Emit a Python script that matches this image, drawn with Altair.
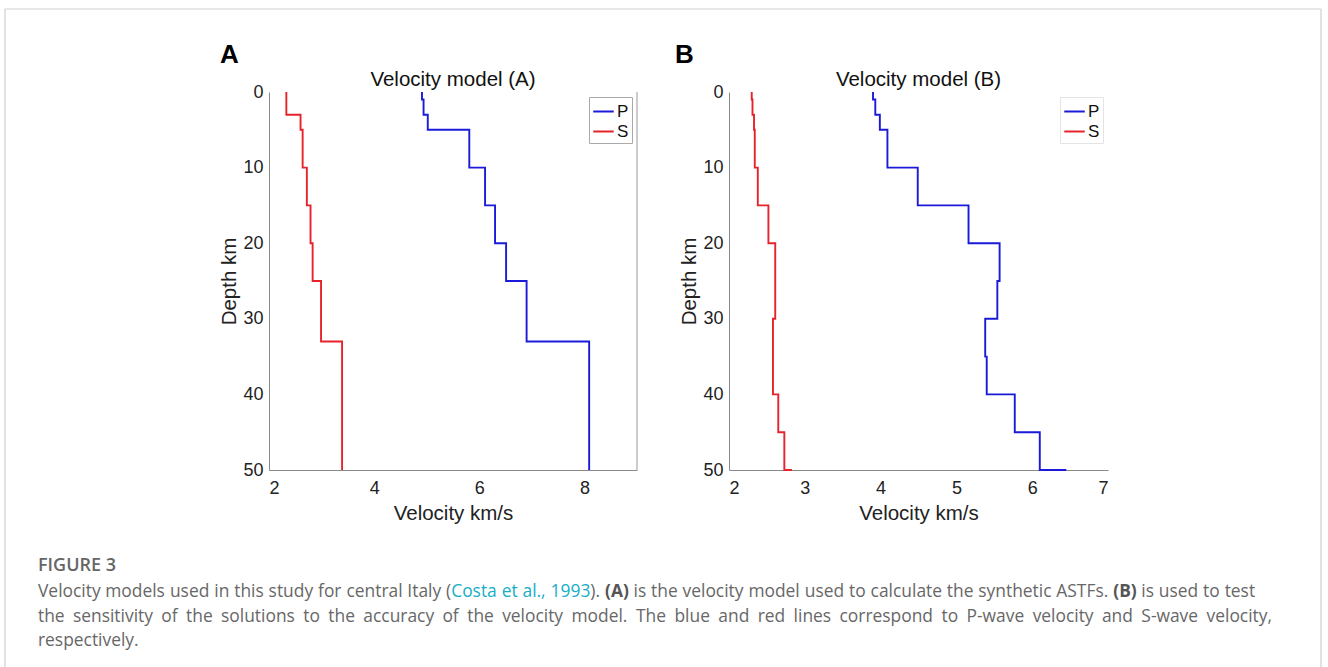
import altair as alt
import pandas as pd

# ---- data ----
A_P_tops = [0, 1, 3, 5, 10, 15, 20, 25, 33]
A_P_vel = [4.91, 4.94, 5.02, 5.81, 6.11, 6.30, 6.51, 6.90, 8.09]
A_S_tops = [0, 3, 5, 10, 15, 20, 25, 33]
A_S_vel = [2.33, 2.60, 2.64, 2.72, 2.79, 2.83, 2.99, 3.39]

B_P_tops = [0, 1, 3, 5, 10, 15, 20, 25, 30, 35, 40, 45, 50]
B_P_vel = [3.90, 3.93, 3.99, 4.09, 4.49, 5.16, 5.57, 5.54, 5.38, 5.40, 5.77, 6.10, 6.45]
B_S_tops = [0, 1, 3, 5, 10, 15, 20, 30, 40, 45, 50]
B_S_vel = [2.30, 2.31, 2.33, 2.34, 2.38, 2.52, 2.61, 2.58, 2.65, 2.73, 2.83]

MAX_DEPTH = 50
A_xticks = [2, 4, 6, 8]
B_xticks = [2, 3, 4, 5, 6, 7]
y_ticks = [0, 10, 20, 30, 40, 50]

caption_fig = "FIGURE 3"
caption_line1 = [
    ("Velocity models used in this study for central Italy (", "n"),
    ("Costa et al., 1993", "c"),
    ("). ", "n"),
    ("(A)", "b"),
    (" is the velocity model used to calculate the synthetic ASTFs. ", "n"),
    ("(B)", "b"),
    (" is used to test", "n"),
]
caption_line2 = [
    ("the sensitivity of the solutions to the accuracy of the velocity model. "
     "The blue and red lines correspond to P-wave velocity and S-wave velocity,", "n"),
]
caption_line3 = [("respectively.", "n")]

FONT = "Liberation Sans"
CAP_FONT = "Open Sans"
BLUE = "#1a1ad8"
RED = "#e6232b"
TEAL = "#17aec7"
CAP_GRAY = "#676767"

# plot-area geometry (pixels)
A_LEFT, A_RIGHT = 268, 636
B_LEFT, B_RIGHT = 728, 1107
TOP, BOTTOM = 91, 469
H = BOTTOM - TOP


def steps(tops, vels, wave):
    rows = []
    n = len(tops)
    for i in range(n):
        bottom = tops[i + 1] if i + 1 < n else MAX_DEPTH
        rows.append({"wave": wave, "v": vels[i], "d": tops[i], "o": 2 * i})
        rows.append({"wave": wave, "v": vels[i], "d": bottom, "o": 2 * i + 1})
    return rows


dfA = pd.DataFrame(steps(A_P_tops, A_P_vel, "P") + steps(A_S_tops, A_S_vel, "S"))
dfB = pd.DataFrame(steps(B_P_tops, B_P_vel, "P") + steps(B_S_tops, B_S_vel, "S"))

one = pd.DataFrame({"k": [0]})

# ---- approximate Open Sans advance widths (em) for laying out the caption ----
_W = dict(zip("abcdefghijklmnopqrstuvwxyz",
              [.556, .613, .476, .613, .561, .339, .548, .614, .253, .253, .525, .253, .930,
               .614, .604, .613, .613, .408, .477, .353, .614, .501, .778, .524, .502, .468]))
_W.update(zip("ABCDEFGHIJKLMNOPQRSTUVWXYZ",
              [.633, .647, .631, .727, .556, .516, .728, .738, .279, .267, .614, .519, .904,
               .763, .779, .602, .779, .618, .549, .553, .729, .582, .897, .575, .559, .560]))
_W.update({c: .572 for c in "0123456789"})
_W.update({" ": .26, ",": .258, ".": .267, "-": .322, "(": .296, ")": .296})
_WB = {"(": .332, ")": .332, "A": .690, "B": .662}
SPACE = .26


def em_width(txt, bold=False):
    tab = _WB if bold else {}
    return sum(tab.get(c, _W.get(c, .55)) for c in txt)


def layout_line(runs, x0, y, size, end=None):
    toks = []
    pending = False
    for text, style in runs:
        parts = text.split(" ")
        for j, p in enumerate(parts):
            if j > 0:
                pending = True
            if p == "":
                continue
            toks.append([p, style, pending and len(toks) > 0])
            pending = False
    widths = [em_width(t, s == "b") * size for t, s, _ in toks]
    nsp = sum(1 for t in toks if t[2])
    natural = sum(widths) + nsp * SPACE * size
    extra = (end - x0 - natural) / nsp if (end is not None and nsp) else 0
    rows = []
    x = x0
    for (t, s, sp), w in zip(toks, widths):
        if sp:
            x += SPACE * size + extra
        rows.append({"t": t, "s": s, "x": x, "y": y})
        x += w
    return rows


CAP_SIZE = 17.4
cap_rows = (layout_line(caption_line1, 37, 596, CAP_SIZE, end=1254)
            + layout_line(caption_line2, 37, 621, CAP_SIZE, end=1271)
            + layout_line(caption_line3, 37, 645, CAP_SIZE))
cap_df = pd.DataFrame(cap_rows)
cap_df["x"] = cap_df["x"] - A_LEFT
cap_df["y"] = cap_df["y"] - TOP


def text_layer(txt, x, y, size, color="#000", weight="normal", font=FONT, align="left"):
    return alt.Chart(one).mark_text(
        text=txt, align=align, baseline="alphabetic", fontSize=size,
        fontWeight=weight, font=font, color=color
    ).encode(x=alt.value(x), y=alt.value(y))


def caption_layer(style, color, weight):
    return alt.Chart(cap_df).transform_filter(alt.datum.s == style).mark_text(
        align="left", baseline="alphabetic", fontSize=CAP_SIZE, font=CAP_FONT,
        color=color, fontWeight=weight
    ).encode(
        x=alt.X("x:Q", scale=None, axis=None),
        y=alt.Y("y:Q", scale=None, axis=None),
        text="t:N",
    )


def panel(df, xdom, xticks, width, title, letter, letter_x, legend_stroke, extras):
    lines = alt.Chart(df).mark_line(strokeWidth=1.9).encode(
        x=alt.X("v:Q", scale=alt.Scale(domain=xdom, nice=False, zero=False),
                axis=alt.Axis(values=xticks, title="Velocity km/s", labelPadding=9,
                              titlePadding=6, format="d")),
        y=alt.Y("d:Q", scale=alt.Scale(domain=[0, MAX_DEPTH], reverse=True, nice=False),
                axis=alt.Axis(values=y_ticks, title="Depth km", labelPadding=6,
                              titlePadding=3)),
        color=alt.Color("wave:N", scale=alt.Scale(domain=["P", "S"], range=[BLUE, RED]),
                        legend=alt.Legend(title=None, orient="top-right", offset=5,
                                          symbolType="stroke", symbolSize=420,
                                          symbolStrokeWidth=2, labelFontSize=17,
                                          labelFont=FONT, labelColor="#111",
                                          labelOffset=2, rowPadding=0, padding=3,
                                          strokeColor=legend_stroke, fillColor="white")),
        order="o:Q",
        detail="wave:N",
    )
    let = text_layer(letter, letter_x, -29, 26, "#000", "bold")
    ttl = text_layer(title, width / 2, -6, 20.5, "#111", "normal", FONT, "center")
    return alt.layer(lines, let, ttl, *extras).properties(width=width, height=H)


# decorations for panel A: right border, outer frame, caption
rA = A_LEFT
tA = TOP
right_border = alt.Chart(one).mark_rule(color="#999", strokeWidth=1).encode(
    x=alt.value(A_RIGHT - A_LEFT), y=alt.value(0), y2=alt.value(H))
frame = [
    alt.Chart(one).mark_rule(color="#cfcfcf", strokeWidth=1.2).encode(
        x=alt.value(4 - rA), y=alt.value(8 - tA), y2=alt.value(666 - tA)),
    alt.Chart(one).mark_rule(color="#cfcfcf", strokeWidth=1.2).encode(
        x=alt.value(4 - rA), x2=alt.value(1320 - rA), y=alt.value(8 - tA)),
    alt.Chart(one).mark_rule(color="#cfcfcf", strokeWidth=1.2).encode(
        x=alt.value(1320 - rA), y=alt.value(8 - tA), y2=alt.value(666 - tA)),
]
caption = [
    text_layer(caption_fig, 37 - rA, 570 - tA, 18, "#666", 600, CAP_FONT),
    caption_layer("n", CAP_GRAY, "normal"),
    caption_layer("c", TEAL, "normal"),
    caption_layer("b", "#555", "bold"),
]

chartA = panel(dfA, [2, 9], A_xticks, A_RIGHT - A_LEFT, "Velocity model (A)", "A", -49,
               "#aaaaaa", [right_border] + frame + caption)
chartB = panel(dfB, [2, 7], B_xticks, B_RIGHT - B_LEFT, "Velocity model (B)", "B", -54,
               "#e4e4e4", [])

chart = alt.hconcat(chartA, chartB, spacing=B_LEFT - A_RIGHT, bounds="flush").resolve_scale(
    color="independent"
).properties(
    padding={"left": 3, "top": 7, "right": 0, "bottom": 0},
    background="white",
).configure_axis(
    domainColor="#8a8a8a", domainWidth=1, ticks=False, grid=False,
    labelFont=FONT, labelFontSize=18, labelColor="#222",
    titleFont=FONT, titleFontSize=20.5, titleFontWeight="normal", titleColor="#222",
).configure_view(stroke="transparent")

chart.save("out.html", embed_options={"renderer": "svg", "actions": False})
